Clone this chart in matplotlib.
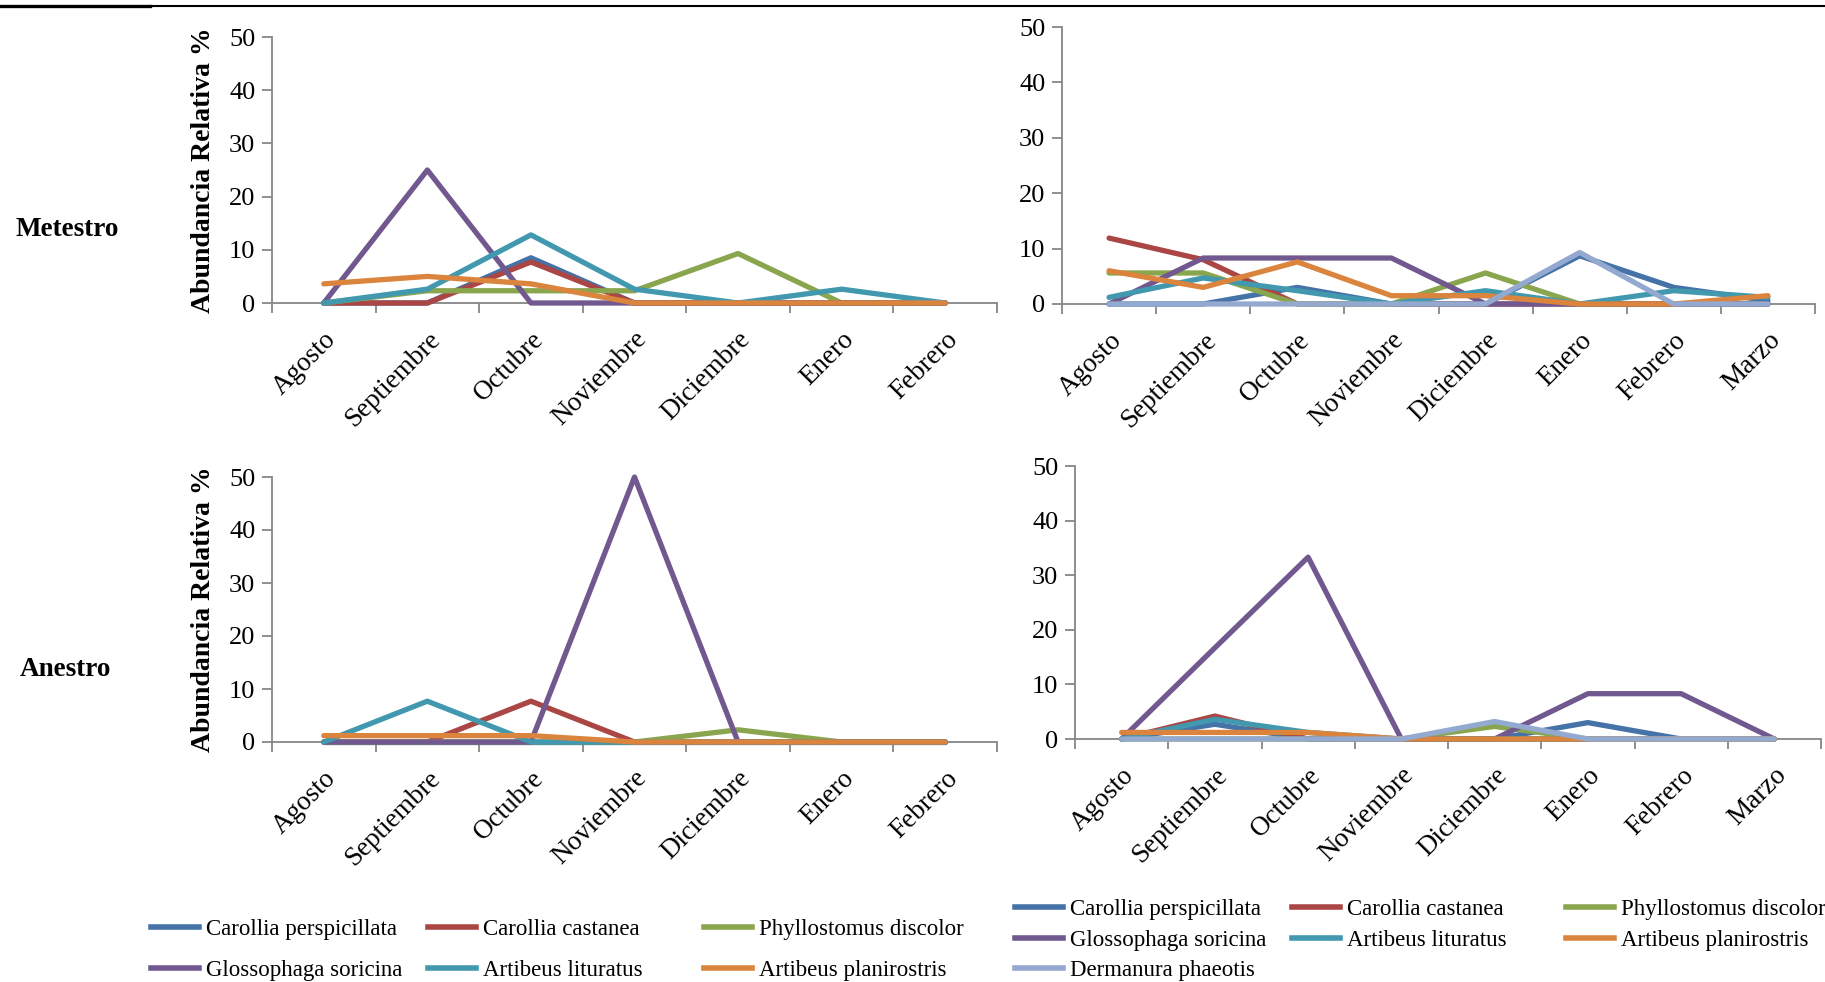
import matplotlib
matplotlib.use("Agg")
import matplotlib.pyplot as plt
from matplotlib.lines import Line2D

plt.rcParams['font.family'] = ['Liberation Serif', 'DejaVu Serif']

W, H = 1825, 982

meses_izq = ['Agosto', 'Septiembre', 'Octubre', 'Noviembre', 'Diciembre', 'Enero', 'Febrero']
meses_der = meses_izq + ['Marzo']

especies = ['Carollia perspicillata', 'Carollia castanea', 'Phyllostomus discolor',
            'Glossophaga soricina', 'Artibeus lituratus', 'Artibeus planirostris',
            'Dermanura phaeotis']
colores = ['#4572A7', '#AA4643', '#89A54E', '#71588F', '#4198AF', '#DB843D', '#93A9CF']

# abundancia relativa (%) por especie, en el orden de "especies"
metestro_izq = [
    [0, 0, 8.5, 0, 0, 0, 0],
    [0, 0, 7.7, 0, 0, 0, 0],
    [0, 2.3, 2.3, 2.3, 9.3, 0, 0],
    [0, 25, 0, 0, 0, 0, 0],
    [0, 2.6, 12.8, 2.6, 0, 2.6, 0],
    [3.6, 5.0, 3.6, 0, 0, 0, 0],
]
anestro_izq = [
    [0, 0, 0, 0, 0, 0, 0],
    [0, 0, 7.7, 0, 0, 0, 0],
    [0, 0, 0, 0, 2.3, 0, 0],
    [0, 0, 0, 50, 0, 0, 0],
    [0, 7.7, 0, 0, 0, 0, 0],
    [1.2, 1.2, 1.2, 0, 0, 0, 0],
]
metestro_der = [
    [0, 0, 3.0, 0, 0, 8.7, 3.0, 0.6],
    [11.9, 8.0, 0, 0, 0, 0, 0, 0],
    [5.6, 5.6, 0, 0, 5.6, 0, 0, 0],
    [0, 8.3, 8.3, 8.3, 0, 0, 0, 0],
    [1.2, 4.7, 2.4, 0, 2.4, 0, 2.4, 1.2],
    [6.0, 3.0, 7.6, 1.5, 1.5, 0, 0, 1.5],
    [0, 0, 0, 0, 0, 9.3, 0, 0],
]
anestro_der = [
    [0, 2.7, 0, 0, 0, 3.0, 0, 0],
    [0, 4.2, 0, 0, 0, 0, 0, 0],
    [0, 0, 0, 0, 2.3, 0, 0, 0],
    [0, 16.7, 33.3, 0, 0, 8.3, 8.3, 0],
    [0, 3.6, 1.2, 0, 0, 0, 0, 0],
    [1.2, 1.2, 1.2, 0, 0, 0, 0, 0],
    [0, 0, 0, 0, 3.2, 0, 0, 0],
]

fig = plt.figure(figsize=(W / 100, H / 100), dpi=100)


def px_axes(x0, x1, ytop, ybot):
    return fig.add_axes([x0 / W, 1 - ybot / H, (x1 - x0) / W, (ybot - ytop) / H])


def panel(ax, meses, datos, ylabel=False):
    n = len(meses)
    x = list(range(n))
    for serie, color in zip(datos, colores):
        ax.plot(x, serie, color=color, lw=3.8, clip_on=False, zorder=3,
                solid_joinstyle='round', solid_capstyle='round')
    ax.set_xlim(-0.5, n - 0.5)
    ax.set_ylim(0, 50)
    ax.set_yticks(range(0, 51, 10))
    ax.set_xticks([i - 0.5 for i in range(n + 1)])
    ax.set_xticklabels([])
    ax.set_xticks(x, minor=True)
    ax.set_xticklabels(meses, minor=True, rotation=45, ha='right', va='top',
                       rotation_mode='anchor', fontsize=19.5)
    ax.tick_params(axis='x', which='minor', length=0, pad=17)
    ax.tick_params(axis='x', which='major', length=7, width=1.3, color='#868686')
    ax.tick_params(axis='y', length=7, width=1.3, color='#868686', labelsize=19, pad=5)
    for s in ['top', 'right']:
        ax.spines[s].set_visible(False)
    for s in ['left', 'bottom']:
        ax.spines[s].set_color('#868686')
        ax.spines[s].set_linewidth(1.3)
    if ylabel:
        ax.set_ylabel('Abundancia Relativa %', fontsize=20, fontweight='bold', labelpad=9)


ax1 = px_axes(272, 997, 37, 303)
ax2 = px_axes(1062, 1815, 27, 304)
ax3 = px_axes(272, 997, 477, 742)
ax4 = px_axes(1075, 1821, 466, 739)

panel(ax1, meses_izq, metestro_izq, ylabel=True)
panel(ax2, meses_der, metestro_der)
panel(ax3, meses_izq, anestro_izq, ylabel=True)
panel(ax4, meses_der, anestro_der)

fig.text(16 / W, 1 - 229 / H, 'Metestro', fontsize=19.5, fontweight='bold', va='center')
fig.text(20 / W, 1 - 669 / H, 'Anestro', fontsize=19.5, fontweight='bold', va='center')

# linea superior
fig.add_artist(Line2D([0, 150 / W], [1 - 5.7 / H] * 2, color='black', lw=2.4))
fig.add_artist(Line2D([150 / W, 1], [1 - 6.3 / H] * 2, color='black', lw=1.5))

handles = [Line2D([], [], color=c, lw=4) for c in colores]


def columna(idx, x_px, y_px, spacing):
    fig.legend([handles[i] for i in idx], [especies[i] for i in idx],
               loc='upper left', bbox_to_anchor=(x_px / W, 1 - y_px / H),
               bbox_transform=fig.transFigure, frameon=False, borderpad=0,
               borderaxespad=0, handlelength=2.1, handletextpad=0.3,
               labelspacing=spacing, fontsize=16.5)


# leyenda izquierda (6 especies)
columna([0, 3], 151, 919, 0.85)
columna([1, 4], 428, 919, 0.85)
columna([2, 5], 704, 919, 0.85)
# leyenda derecha (7 especies)
columna([0, 3, 6], 1015, 899, 0.42)
columna([1, 4], 1292, 899, 0.42)
columna([2, 5], 1566, 899, 0.42)

fig.savefig('out.png', dpi=100)
